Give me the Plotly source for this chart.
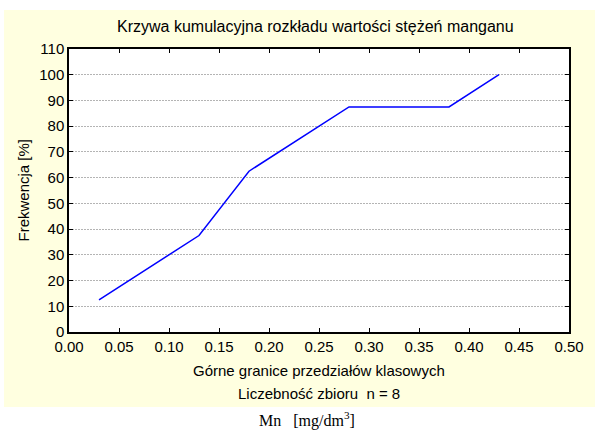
import plotly.graph_objects as go

upper_bounds = [0.03, 0.13, 0.18, 0.28, 0.38, 0.43]
cumulative_pct = [12.5, 37.5, 62.5, 87.5, 87.5, 100.0]

title_text = "Krzywa kumulacyjna rozkładu wartości stężeń manganu"
x_title = "Górne granice przedziałów klasowych"
n_text = "Liczebność zbioru  n = 8"
unit_text = "Mn   [mg/dm<sup>3</sup>]"
y_title = "Frekwencja [%]"

W, H = 595, 432
L, R, T, B = 69, 26, 49, 100
pw, ph = W - L - R, H - T - B

def px_x(p):
    return (p - L) / pw

def px_y(p):
    return (H - B - p) / ph

font = dict(family="Arial, Liberation Sans, sans-serif", size=15, color="black")

fig = go.Figure()
fig.add_trace(go.Scatter(x=upper_bounds, y=cumulative_pct, mode="lines",
                         line=dict(color="#0000FF", width=1.5), showlegend=False,
                         hoverinfo="skip"))

fig.update_layout(
    width=W, height=H,
    margin=dict(l=L, r=R, t=T, b=B),
    paper_bgcolor="white", plot_bgcolor="white",
    font=font,
    showlegend=False,
    shapes=[
        dict(type="rect", xref="paper", yref="paper", layer="below",
             x0=px_x(4), x1=px_x(W + 5), y0=px_y(407), y1=px_y(10),
             fillcolor="#FFFFE0", line=dict(width=0)),
        dict(type="rect", xref="paper", yref="paper", layer="below",
             x0=0, x1=1, y0=0, y1=1, fillcolor="white", line=dict(width=0)),
    ],
    annotations=[
        dict(text=title_text, xref="paper", yref="paper", x=px_x(315), y=px_y(26),
             showarrow=False, font=dict(size=16), xanchor="center", yanchor="middle"),
        dict(text=x_title, xref="paper", yref="paper", x=0.5, y=px_y(370),
             showarrow=False, font=dict(size=15), xanchor="center", yanchor="middle"),
        dict(text=n_text, xref="paper", yref="paper", x=0.5, y=px_y(393),
             showarrow=False, font=dict(size=15), xanchor="center", yanchor="middle"),
        dict(text=unit_text, xref="paper", yref="paper", x=px_x(307), y=px_y(419),
             showarrow=False, font=dict(family="Liberation Serif, Times New Roman, serif", size=16),
             xanchor="center", yanchor="middle"),
        dict(text=y_title, xref="paper", yref="paper", x=px_x(23), y=0.5, textangle=-90,
             showarrow=False, font=dict(size=15), xanchor="center", yanchor="middle"),
    ],
)

fig.update_xaxes(range=[0, 0.5], dtick=0.05, tick0=0, tickformat=".2f",
                 showgrid=False, zeroline=False,
                 showline=True, linecolor="black", linewidth=1.5, mirror="ticks",
                 ticks="inside", ticklen=4, tickcolor="black",
                 tickfont=dict(size=15), ticklabelstandoff=0)
fig.update_yaxes(range=[0, 110], dtick=10, tick0=0,
                 showgrid=True, gridcolor="#B4B4B4", griddash="2px,1px", gridwidth=1,
                 zeroline=False,
                 showline=True, linecolor="black", linewidth=1.5, mirror="ticks",
                 ticks="inside", ticklen=4, tickcolor="black",
                 tickfont=dict(size=15))

fig.write_html("out.html",
               config={"displayModeBar": False},
               post_script="document.body.style.margin='0px';document.body.style.padding='0px';")
